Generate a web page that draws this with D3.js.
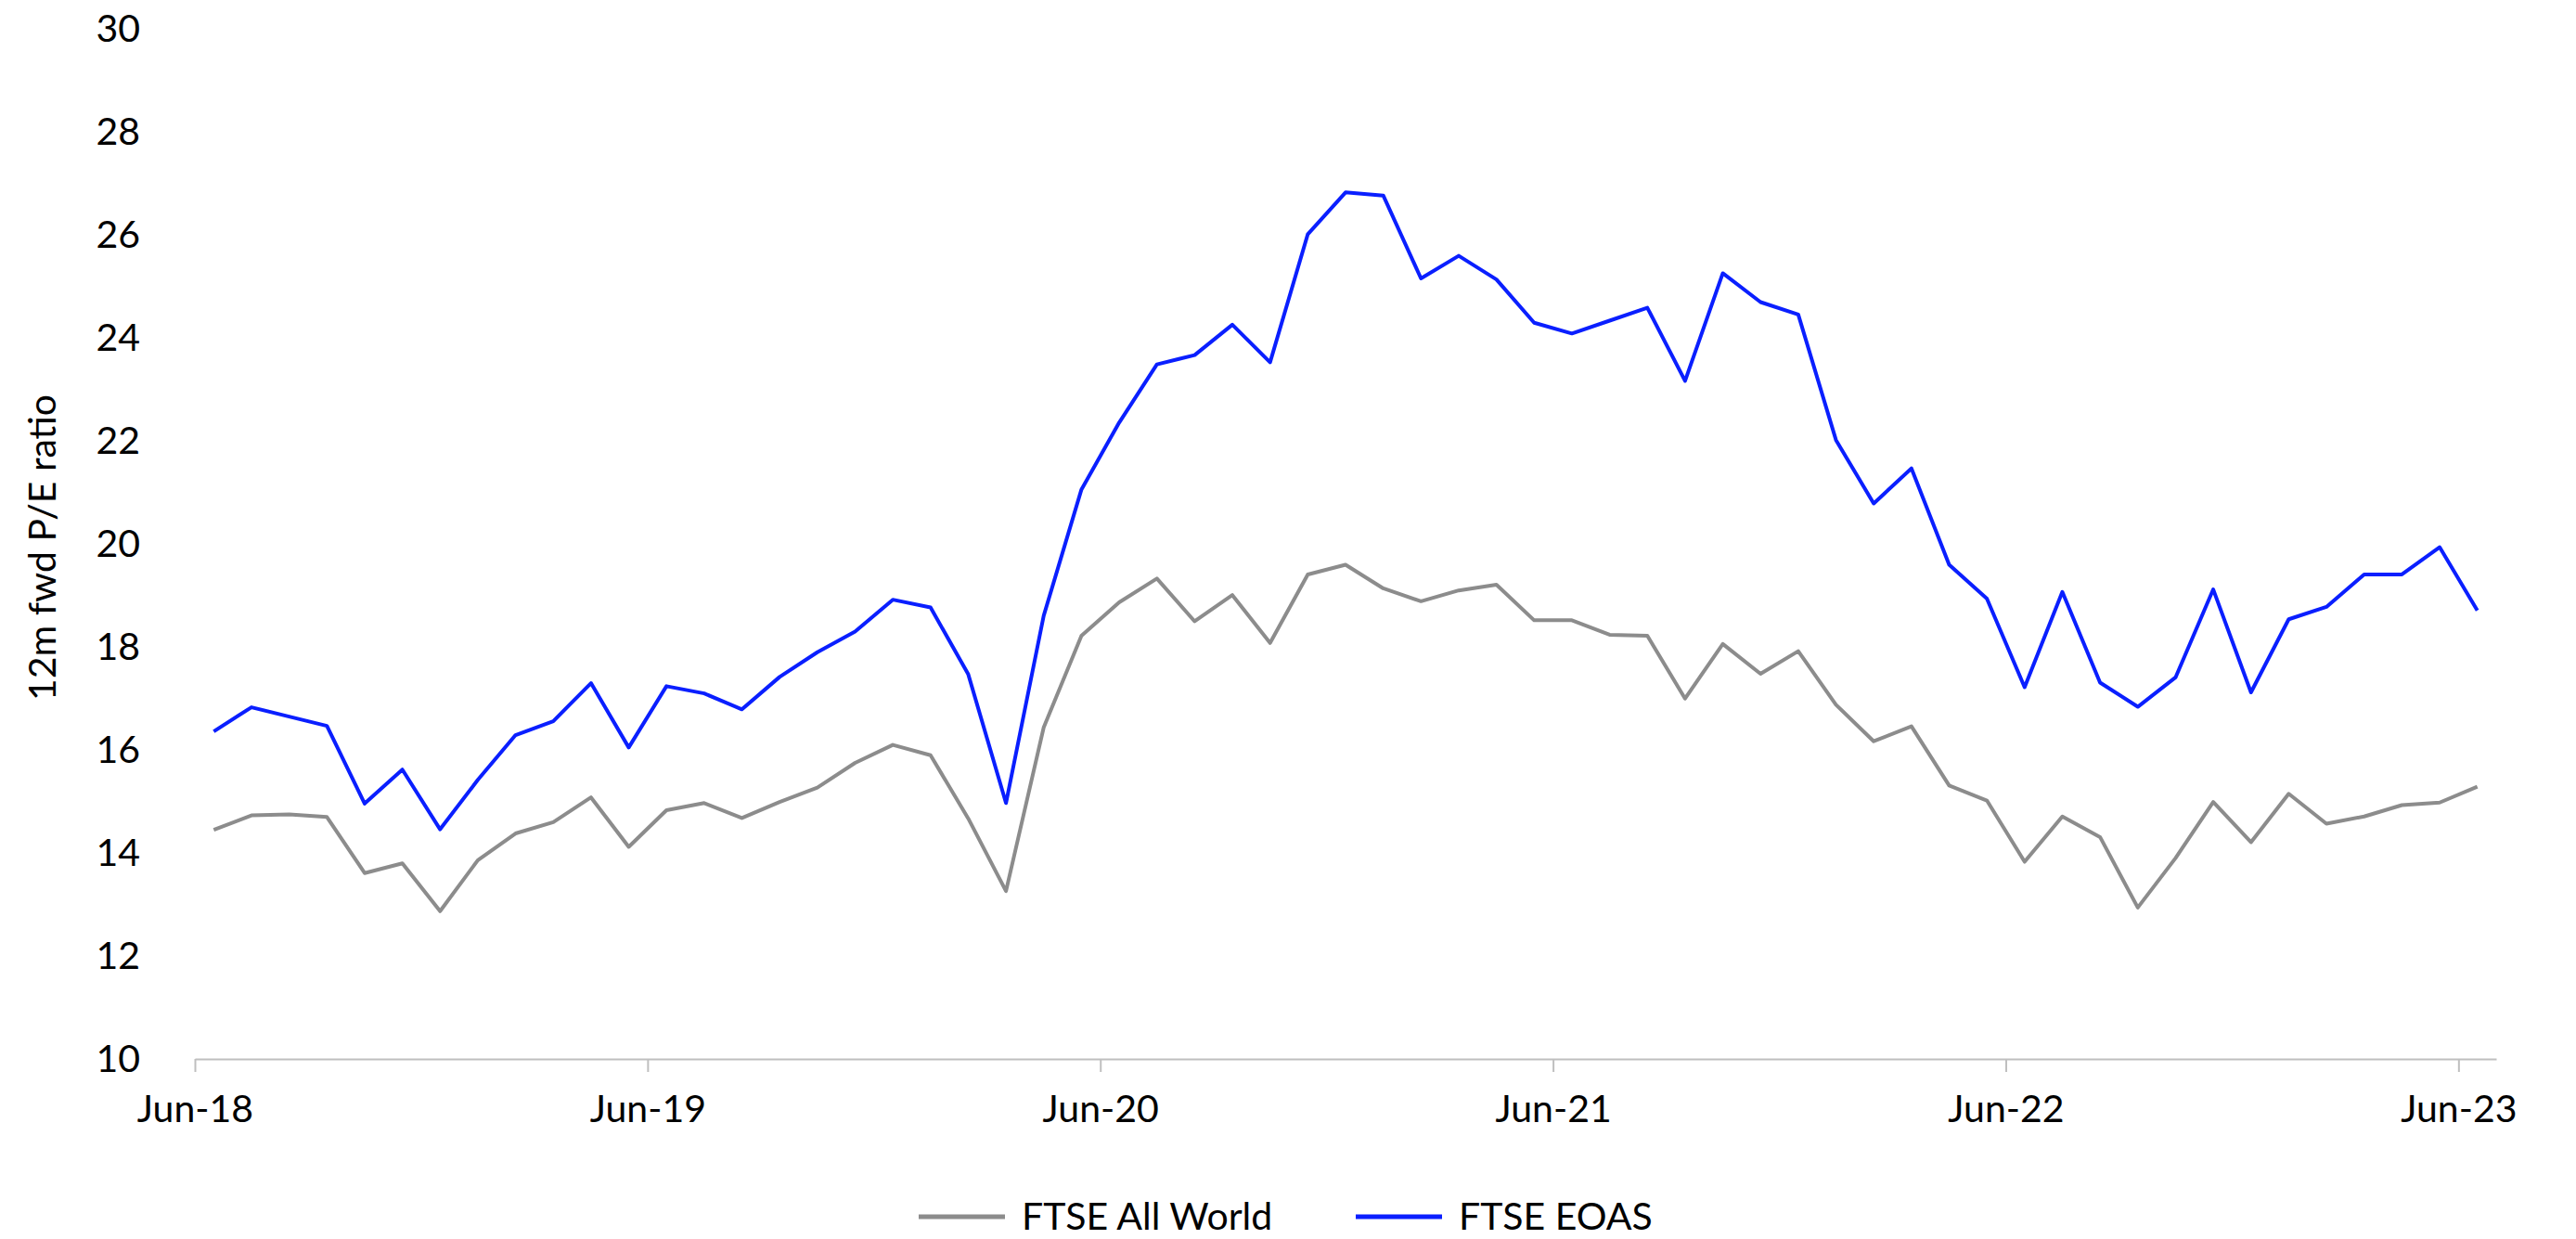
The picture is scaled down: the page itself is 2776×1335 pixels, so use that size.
<!DOCTYPE html>
<html lang="en">
<head>
    <meta charset="UTF-8">
    <title>12m fwd P/E ratio</title>
    <style>
        html, body { margin: 0; padding: 0; background: #fff; }
        svg { display: block; font-family: Lato, "Open Sans", sans-serif; }
        .tick text { fill: #000; }
    </style>
</head>
<body>
    <svg width="2776" height="1335"></svg>

    <script src="https://cdnjs.cloudflare.com/ajax/libs/d3/7.8.5/d3.min.js"></script>
    <script>
        // monthly observations, Jun-18 .. Jun-23
        const months = [
            'Jun-18','Jul-18','Aug-18','Sep-18','Oct-18','Nov-18','Dec-18','Jan-19','Feb-19','Mar-19','Apr-19','May-19',
            'Jun-19','Jul-19','Aug-19','Sep-19','Oct-19','Nov-19','Dec-19','Jan-20','Feb-20','Mar-20','Apr-20','May-20',
            'Jun-20','Jul-20','Aug-20','Sep-20','Oct-20','Nov-20','Dec-20','Jan-21','Feb-21','Mar-21','Apr-21','May-21',
            'Jun-21','Jul-21','Aug-21','Sep-21','Oct-21','Nov-21','Dec-21','Jan-22','Feb-22','Mar-22','Apr-22','May-22',
            'Jun-22','Jul-22','Aug-22','Sep-22','Oct-22','Nov-22','Dec-22','Jan-23','Feb-23','Mar-23','Apr-23','May-23',
            'Jun-23'
        ];

        const allWorld = [
            14.45, 14.73, 14.75, 14.70, 13.61, 13.80, 12.87, 13.86, 14.38, 14.60, 15.08, 14.12,
            14.83, 14.97, 14.68, 14.99, 15.27, 15.75, 16.10, 15.90, 14.67, 13.26, 16.44, 18.22,
            18.87, 19.33, 18.50, 19.01, 18.08, 19.41, 19.60, 19.14, 18.89, 19.10, 19.21, 18.52,
            18.52, 18.24, 18.22, 17.00, 18.06, 17.48, 17.92, 16.88, 16.17, 16.46, 15.31, 15.02,
            13.83, 14.71, 14.31, 12.94, 13.90, 14.99, 14.21, 15.15, 14.57, 14.71, 14.93, 14.98,
            15.29
        ];

        const eoas = [
            16.36, 16.83, 16.65, 16.47, 14.96, 15.62, 14.46, 15.42, 16.29, 16.56, 17.30, 16.05,
            17.24, 17.10, 16.79, 17.42, 17.90, 18.30, 18.92, 18.77, 17.47, 14.97, 18.61, 21.06,
            22.36, 23.49, 23.67, 24.26, 23.53, 26.02, 26.83, 26.77, 25.16, 25.60, 25.14, 24.30,
            24.09, 24.34, 24.59, 23.17, 25.26, 24.70, 24.46, 22.02, 20.79, 21.47, 19.60, 18.94,
            17.22, 19.07, 17.31, 16.84, 17.41, 19.12, 17.12, 18.54, 18.78, 19.41, 19.41, 19.94,
            18.71
        ];

        const xTickLabels = ['Jun-18', 'Jun-19', 'Jun-20', 'Jun-21', 'Jun-22', 'Jun-23'];
        const yTicks = [10, 12, 14, 16, 18, 20, 22, 24, 26, 28, 30];

        const seriesNames = ['FTSE All World', 'FTSE EOAS'];
        const seriesColors = ['#8c8c8c', '#0a1fff'];

        var svg = d3.select('svg');
        var fontSize = 41;

        // plot area (top/bottom names clash with window.top, so prefixed)
        var plotLeft = 210, plotRight = 2690, plotTop = 31.5, plotBottom = 1141;

        // category axis: each month gets one slot, points sit in the middle of the slot
        var x = d3.scaleLinear().domain([0, months.length]).range([plotLeft, plotRight]);
        var y = d3.scaleLinear().domain([10, 30]).range([plotBottom, plotTop]);

        // y axis - labels only
        svg.append('g')
            .attr('transform', 'translate(' + plotLeft + ',0)')
            .call(d3.axisLeft(y).tickValues(yTicks).tickSize(0).tickPadding(59))
            .call(g => g.select('.domain').remove())
            .selectAll('text')
            .attr('font-size', fontSize)
            .attr('font-family', 'Lato, sans-serif');

        // x axis - ticks at start of every June
        var xg = svg.append('g')
            .attr('transform', 'translate(0,' + plotBottom + ')')
            .call(
                d3.axisBottom(x)
                    .tickValues(xTickLabels.map(l => months.indexOf(l)))
                    .tickFormat(i => months[i])
                    .tickSize(14)
                    .tickSizeOuter(0)
                    .tickPadding(25)
            );
        xg.select('.domain').attr('stroke', '#bfbfbf').attr('stroke-width', 2);
        xg.selectAll('.tick line').attr('stroke', '#bfbfbf').attr('stroke-width', 2);
        xg.selectAll('text')
            .attr('font-size', fontSize)
            .attr('font-family', 'Lato, sans-serif');

        // y title
        svg.append('text')
            .attr('transform', 'translate(60,' + 590 + ') rotate(-90)')
            .attr('text-anchor', 'middle')
            .attr('font-size', fontSize)
            .attr('fill', '#000')
            .text('12m fwd P/E ratio');

        // lines
        var line = d3.line()
            .x((d, i) => x(i + 0.5))
            .y(d => y(d));

        [allWorld, eoas].forEach(function (vals, k) {
            svg.append('path')
                .datum(vals)
                .attr('fill', 'none')
                .attr('stroke', seriesColors[k])
                .attr('stroke-width', 4)
                .attr('stroke-linejoin', 'round')
                .attr('d', line);
        });

        // legend
        var legend = svg.append('g').attr('transform', 'translate(0,1311)');
        var legendX = [990, 1461];
        seriesNames.forEach(function (name, k) {
            var item = legend.append('g').attr('transform', 'translate(' + legendX[k] + ',0)');
            item.append('line')
                .attr('x1', 0).attr('x2', 93)
                .attr('y1', 0).attr('y2', 0)
                .attr('stroke', seriesColors[k])
                .attr('stroke-width', 5);
            item.append('text')
                .attr('x', 111)
                .attr('y', 14)
                .attr('font-size', fontSize)
                .attr('fill', '#000')
                .text(name);
        });
    </script>
</body>
</html>
